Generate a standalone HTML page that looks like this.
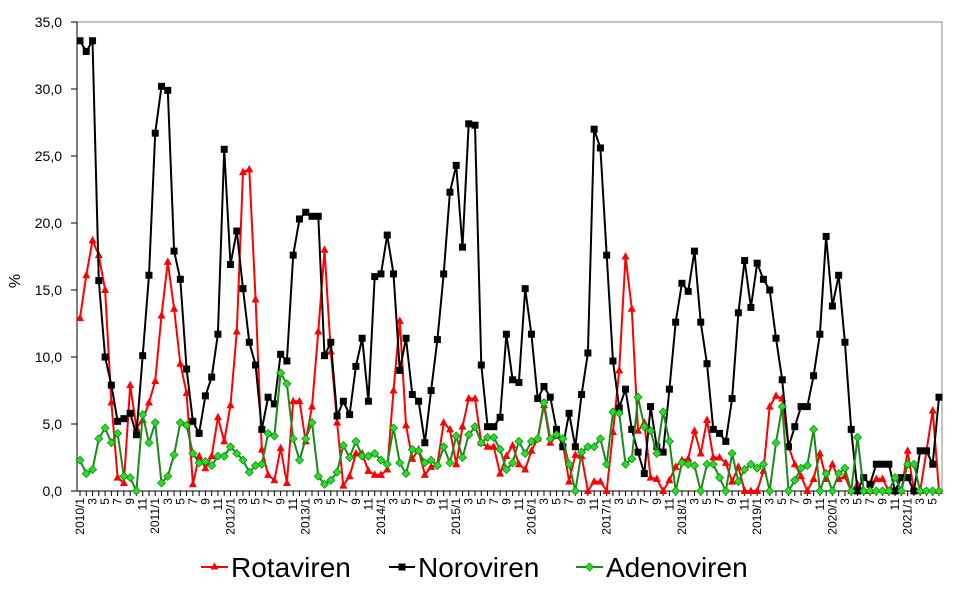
<!DOCTYPE html>
<html><head><meta charset="utf-8"><style>
html,body{margin:0;padding:0;background:#fff;}
svg{display:block;font-family:"Liberation Sans",Arial,sans-serif;}
</style></head><body>
<svg id="chart" width="958" height="591" viewBox="0 0 958 591">
<g id="grid"></g>
<g id="series"></g>
<g id="legend">
  <g>
    <line x1="201" y1="567" x2="228" y2="567" stroke="#ff0000" stroke-width="2"/>
    <polygon points="214.5,562.5 218.5,569.5 210.5,569.5" fill="#ff0000"/>
    <text x="231" y="577" font-size="28" fill="#000">Rotaviren</text>
  </g>
  <g>
    <line x1="389" y1="567" x2="415" y2="567" stroke="#000" stroke-width="2"/>
    <rect x="398.5" y="563.5" width="7" height="7" fill="#000"/>
    <text x="418" y="577" font-size="28" fill="#000">Noroviren</text>
  </g>
  <g>
    <line x1="576" y1="567" x2="603" y2="567" stroke="#1a8a1a" stroke-width="2"/>
    <polygon points="589.5,563 593.5,567 589.5,571 585.5,567" fill="#22e022" stroke="#1a8a1a" stroke-width="0.8"/>
    <text x="606" y="577" font-size="28" fill="#000">Adenoviren</text>
  </g>
</g>
</svg>
<script>
const rota = [12.9,16.1,18.7,17.6,15.0,6.6,1.0,0.6,7.9,4.7,5.3,6.6,
8.2,13.1,17.1,13.6,9.5,7.3,0.5,2.6,1.7,2.6,5.5,3.7,
6.4,11.9,23.8,24.0,14.3,3.1,1.2,0.8,3.2,0.6,6.7,6.7,
3.7,6.3,11.9,18.0,10.4,5.1,0.4,1.1,2.8,2.8,1.5,1.2,
1.2,1.6,7.5,12.7,4.9,2.4,3.1,1.2,1.8,2.0,5.1,4.6,
2.0,4.8,6.9,6.9,3.6,3.3,3.3,1.3,2.6,3.4,2.0,1.6,
3.0,3.9,6.4,3.6,4.1,3.6,0.7,2.7,2.6,0,0.7,0.7,
0,4.4,9.0,17.5,13.6,4.5,5.1,1.0,0.9,0,0.8,1.8,
2.3,2.4,4.5,2.8,5.3,2.5,2.5,2.1,0.7,1.8,0,0,
0,1.5,6.3,7.1,6.9,3.3,2.0,1.1,0,0.9,2.8,0.9,
2.0,0.9,1.1,0,0.5,0,0,0.9,0.9,0,0,0,
3.0,0,0,3.0,6.0,0];
const noro = [33.6,32.8,33.6,15.7,10.0,7.9,5.2,5.4,5.8,4.2,10.1,16.1,
26.7,30.2,29.9,17.9,15.8,9.1,5.2,4.3,7.1,8.5,11.7,25.5,
16.9,19.4,15.1,11.1,9.4,4.6,7.0,6.5,10.2,9.7,17.6,20.3,
20.8,20.5,20.5,10.1,11.1,5.6,6.7,5.7,9.3,11.4,6.7,16.0,
16.2,19.1,16.2,9.0,11.4,7.2,6.7,3.6,7.5,11.3,16.2,22.3,
24.3,18.2,27.4,27.3,9.4,4.8,4.8,5.5,11.7,8.3,8.1,15.1,
11.7,6.9,7.8,7.0,4.6,3.3,5.8,3.3,7.2,10.3,27.0,25.6,
17.6,9.7,6.2,7.6,4.6,2.9,1.3,6.3,3.3,2.9,7.6,12.6,
15.5,14.9,17.9,12.6,9.5,4.6,4.3,3.7,6.9,13.3,17.2,13.7,
17.0,15.8,15.0,11.4,8.3,3.3,4.8,6.3,6.3,8.6,11.7,19.0,
13.8,16.1,11.1,4.6,0,1.0,0.5,2.0,2.0,2.0,0,1.0,
1.0,0,3.0,3.0,2.0,7.0];
const adeno = [2.3,1.3,1.6,3.9,4.7,3.6,4.3,1.1,1.0,0,5.7,3.6,
5.1,0.6,1.1,2.7,5.1,4.9,2.8,2.1,2.2,1.9,2.6,2.6,
3.3,2.8,2.3,1.4,1.9,2.0,4.3,4.1,8.8,8.0,3.9,2.3,
3.9,5.1,1.1,0.5,0.8,1.4,3.4,2.5,3.7,2.6,2.6,2.8,
2.3,2.0,4.7,2.1,1.3,3.1,3.0,2.1,2.3,1.9,3.3,2.1,
4.1,2.5,4.2,4.8,3.6,4.0,4.0,3.1,1.6,2.1,3.7,2.8,
3.7,3.9,6.6,3.9,4.2,3.9,2.0,0,2.9,3.3,3.3,3.9,
2.0,5.9,5.8,2.0,2.4,7.0,4.8,4.5,2.8,5.9,3.7,0,
2.1,2.0,1.9,0,2.0,2.0,1.0,0,2.8,0.7,1.6,2.0,
1.7,2.0,0,3.6,6.3,0,0.8,1.7,1.9,4.6,0,1.3,
0,1.3,1.7,0,4.0,0,0,0,0,0,1.0,0,
2.0,2.0,0,0,0,0];
const yTicks = ["0,0","5,0","10,0","15,0","20,0","25,0","30,0","35,0"];
const startYear = 2010;

const NS = "http://www.w3.org/2000/svg";
const L = 77, R = 942, T = 22, B = 491, YMAX = 35;
const n = noro.length;
const step = (939 - 80) / (n - 1);
function xs(i){ return 80 + i * step; }
function ys(v){ return B - v / YMAX * (B - T); }
function mk(tag, attrs, parent){
  const e = document.createElementNS(NS, tag);
  for (const k in attrs) e.setAttribute(k, attrs[k]);
  parent.appendChild(e);
  return e;
}
const grid = document.getElementById('grid');
// frame
let fr = mk('path', {d:`M${L},${T}H${R}V${B}`, fill:'none', stroke:'#888', 'stroke-width':1}, grid);


let ya = mk('line', {x1:L, y1:T, x2:L, y2:B, stroke:'#000', 'stroke-width':1}, grid);


let xa = mk('line', {x1:L, y1:B, x2:R, y2:B, stroke:'#000', 'stroke-width':1}, grid);


yTicks.forEach((t, k) => {
  const v = k * 5;
  const y = ys(v);
  mk('line', {x1:L-6, y1:y, x2:L, y2:y, stroke:'#000'}, grid);
  const tx = mk('text', {x:62, y:y+5, 'text-anchor':'end', 'font-size':14, fill:'#000'}, grid);
  tx.textContent = t;
  
  
});
const yt = mk('text', {x:20, y:281, 'text-anchor':'middle', 'font-size':16, transform:'rotate(-90 20 281)'}, grid);
yt.textContent = '%';


for (let i = 0; i < n; i++) {
  const x = xs(i);
  mk('line', {x1:x, y1:B, x2:x, y2:B+5, stroke:'#000'}, grid);
  const m = i % 12 + 1;
  if (m % 2 === 1) {
    const lab = m === 1 ? (startYear + Math.floor(i/12)) + '/1' : String(m);
    const tx = mk('text', {x:0, y:0, 'text-anchor':'end', 'font-size':12, fill:'#000',
      transform:`translate(${x+4},${B+7}) rotate(-90)`}, grid);
    tx.textContent = lab;
    
    
  }
}
const sg = document.getElementById('series');
function drawSeries(data, name, lineColor, marker){
  const g = mk('g', {}, sg);
  
  
  const pts = data.map((v,i) => xs(i).toFixed(1) + ',' + ys(v).toFixed(1)).join(' ');
  const pl = mk('polyline', {points:pts, fill:'none', stroke:lineColor, 'stroke-width':2, 'stroke-linejoin':'round'}, g);
  
  
  data.forEach((v,i) => {
    const x = xs(i), y = ys(v);
    let e;
    if (marker === 'tri') e = mk('polygon', {points:`${x},${y-4.5} ${x+4},${y+3} ${x-4},${y+3}`, fill:'#ff0000'}, g);
    else if (marker === 'sq') e = mk('rect', {x:x-3.5, y:y-3.5, width:7, height:7, fill:'#000'}, g);
    else e = mk('polygon', {points:`${x},${y-4} ${x+4},${y} ${x},${y+4} ${x-4},${y}`, fill:'#22e022', stroke:'#1a8a1a', 'stroke-width':0.8}, g);
    
    
  });
}
drawSeries(rota, 'rotaviren', '#ff0000', 'tri');
drawSeries(noro, 'noroviren', '#000000', 'sq');
drawSeries(adeno, 'adenoviren', '#1a8a1a', 'dia');
</script>
</body></html>
